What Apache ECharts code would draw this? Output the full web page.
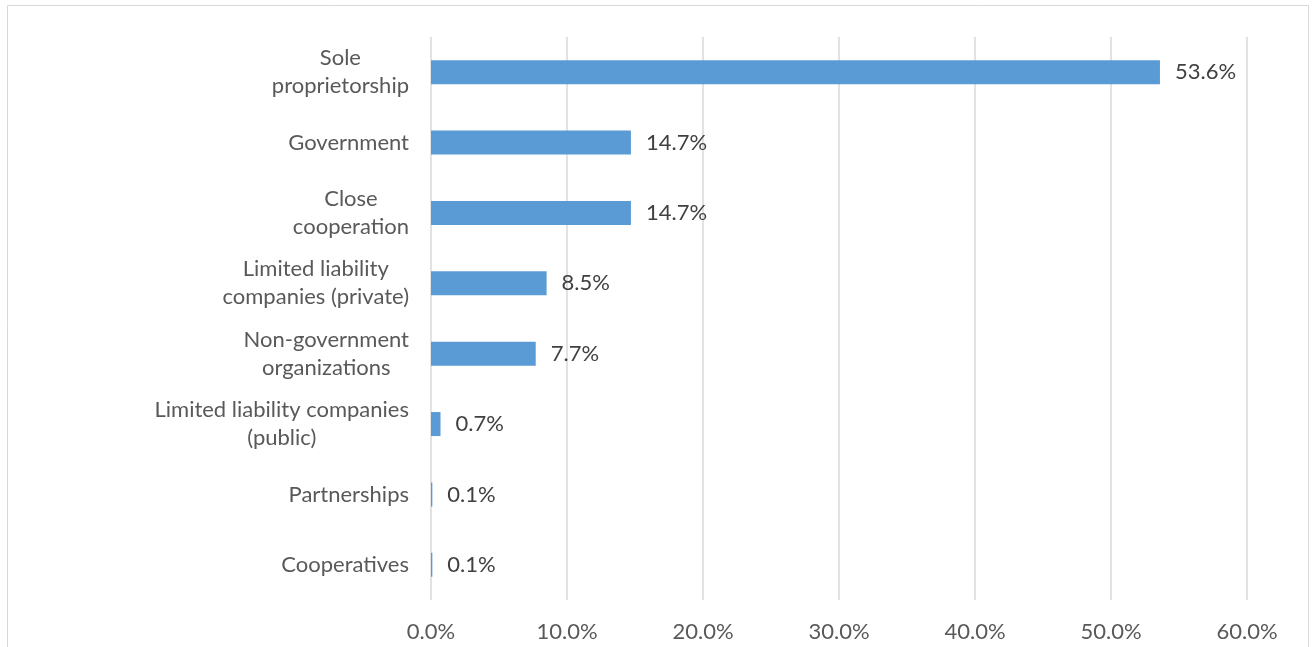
<!DOCTYPE html>
<html>
<head>
<meta charset="utf-8">
<script src="https://cdn.jsdelivr.net/npm/echarts@6/dist/echarts.min.js"></script>
<style>
html,body{margin:0;padding:0;background:#fff;}
#chart{width:1312px;height:647px;}
</style>
</head>
<body>
<div id="chart"></div>
<script>
const categories = [
  "Sole\nproprietorship",
  "Government",
  "Close\ncooperation",
  "Limited liability\ncompanies (private)",
  "Non-government\norganizations",
  "Limited liability companies\n(public)",
  "Partnerships",
  "Cooperatives"
];
const values = [53.6, 14.7, 14.7, 8.5, 7.7, 0.7, 0.1, 0.1];
const xTicks = [0, 10, 20, 30, 40, 50, 60];

const FONT = "Lato";
const chart = echarts.init(document.getElementById('chart'), null, {renderer: 'canvas'});
chart.setOption({
  animation: false,
  backgroundColor: '#ffffff',
  graphic: [{
    type: 'rect',
    shape: {x: 7.5, y: 5.5, width: 1301, height: 700},
    style: {fill: 'none', stroke: '#D9D9D9', lineWidth: 1},
    silent: true,
    z: -1
  }],
  grid: {left: 431, right: 65, top: 37, bottom: 47, containLabel: false},
  xAxis: {
    type: 'value',
    min: xTicks[0],
    max: xTicks[xTicks.length - 1],
    interval: 10,
    axisLine: {show: false},
    axisTick: {show: false},
    splitLine: {show: true, lineStyle: {color: '#D9D9D9', width: 1.5}},
    axisLabel: {
      color: '#595959',
      fontFamily: FONT,
      fontSize: 22,
      margin: 21,
      formatter: v => v.toFixed(1) + '%'
    }
  },
  yAxis: {
    type: 'category',
    inverse: true,
    data: categories,
    axisLine: {show: false},
    axisTick: {show: false},
    axisLabel: {
      color: '#595959',
      fontFamily: FONT,
      fontSize: 22,
      margin: 22,
      lineHeight: 28,
      formatter: v => v.split('\n').map(s => '{c|' + s + '}').join('\n'),
      rich: {
        c: {align: 'center', color: '#595959', fontFamily: FONT, fontSize: 22, lineHeight: 28}
      }
    }
  },
  series: [{
    type: 'bar',
    data: values,
    barWidth: 24,
    itemStyle: {color: '#5B9BD5'},
    label: {
      show: true,
      position: 'right',
      distance: 15,
      color: '#404040',
      fontFamily: FONT,
      fontSize: 22,
      formatter: p => p.value.toFixed(1) + '%'
    }
  }]
});
</script>
</body>
</html>
